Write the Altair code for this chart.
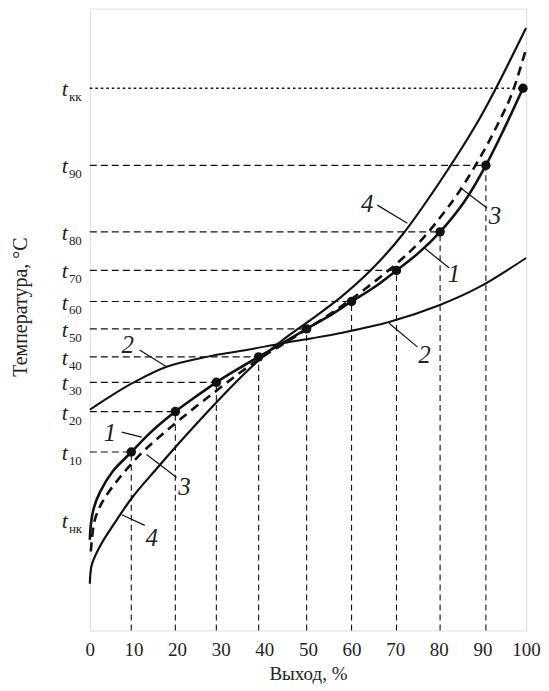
import altair as alt
import pandas as pd

FONT = "'Liberation Serif', 'Times New Roman', 'DejaVu Serif', serif"
INK = "#111111"

# ---- curve 1: solid line through the measured points ----
c1_x = [0, 0.23, 0.92, 2.29, 5.26, 9.54, 13.7, 19.6, 24.5, 29.0, 33.6, 38.7, 43.9,
        49.7, 54.9, 60.0, 65.2, 70.3, 75.5, 80.3, 85.8, 90.8, 95.0, 99.3]
c1_t = [14.6, 17.0, 19.7, 22.2, 25.6, 28.7, 31.7, 35.2, 37.7, 39.9, 41.9, 44.0, 46.1,
        48.5, 50.6, 52.9, 55.2, 57.9, 60.8, 64.1, 68.9, 74.8, 80.7, 87.2]

# ---- curve 2: flat S-curve ----
c2_x = [0, 4.58, 9.84, 17.6, 26.8, 35.9, 44.2, 51.0, 57.2, 68.6, 80.1, 89.2, 100]
c2_t = [35.5, 37.6, 39.8, 42.4, 44.0, 45.1, 46.2, 47.0, 47.8, 49.6, 52.3, 55.2, 59.9]

# ---- curve 3: dashed ----
c3_x = [0.23, 0.46, 1.14, 2.97, 6.86, 11.4, 16.7, 22.9, 29.1, 34.3, 39.6, 44.2, 50.3,
        60.0, 70.0, 75.5, 80.3, 84.7, 89.9, 93.8, 96.8, 100]
c3_t = [12.7, 14.6, 17.8, 20.8, 24.6, 28.2, 31.6, 35.2, 38.6, 41.4, 44.0, 46.0, 48.7,
        53.3, 58.8, 62.4, 66.4, 70.6, 76.6, 81.8, 86.4, 93.5]

# ---- curve 4: steep S-curve ----
c4_x = [0, 0.46, 2.29, 6.18, 9.84, 15.3, 19.9, 25.2, 30.4, 35.9, 41.2, 44.2, 50.3,
        57.2, 64.5, 71.6, 80.1, 88.6, 93.1, 100]
c4_t = [7.5, 10.6, 13.5, 17.8, 21.5, 26.0, 29.7, 33.8, 37.7, 41.6, 45.0, 46.7, 49.8,
        53.4, 58.0, 63.6, 72.0, 81.4, 87.2, 96.9]

# ---- measured points on curve 1 ----
pt_x = [9.5, 19.6, 29.0, 38.7, 49.7, 60.0, 70.3, 80.3, 90.8, 99.3]
pt_t = [28.7, 35.2, 39.9, 44.0, 48.5, 52.9, 57.9, 64.1, 74.8, 87.2]
pt_dash = ["dash", "dash", "dash", "dash", "dash", "dash", "dash", "dash", "dash", "dot"]

# ---- y tick labels (t with subscript) ----
lab_sub = ["кк", "90", "80", "70", "60", "50", "40", "30", "20", "10", "нк"]
lab_t = [87.2, 74.8, 64.1, 57.9, 52.9, 48.5, 44.0, 39.9, 35.2, 28.7, 17.7]

# ---- curve numbers and leader lines ----
num_text = ["1", "3", "4", "2", "4", "1", "3", "2"]
num_x = [4.6, 21.7, 14.2, 8.7, 63.6, 83.5, 92.9, 76.7]
num_t = [31.8, 23.1, 14.9, 45.9, 68.5, 57.3, 66.6, 44.3]
lead_x = [7.3, 13.0, 7.3, 11.4, 65.9, 76.7, 85.1, 68.6]
lead_t = [31.9, 28.3, 18.6, 45.1, 68.4, 61.5, 71.1, 49.4]
lead_x2 = [11.9, 19.9, 12.6, 17.6, 72.8, 82.4, 91.1, 75.1]
lead_t2 = [31.1, 24.6, 16.9, 42.4, 65.5, 58.3, 67.9, 45.6]

x_ticks = [0, 10, 20, 30, 40, 50, 60, 70, 80, 90, 100]

xs = alt.Scale(domain=[0, 100], nice=False, zero=False)
ys = alt.Scale(domain=[0, 100], nice=False, zero=False)
xax = alt.Axis(title="Выход, %", values=x_ticks, grid=False, ticks=False, tickSize=0,
               domain=False, labelFlush=False, labelOverlap=False,
               labelFont=FONT, labelFontSize=19, labelColor="#222", labelPadding=10,
               titleFont=FONT, titleFontSize=19, titleFontWeight="normal",
               titleColor="#222", titlePadding=5)

X = lambda f="x": alt.X(f"{f}:Q", scale=xs, axis=xax)
Y = lambda f="t": alt.Y(f"{f}:Q", scale=ys, axis=None)

def curve_df(xv, tv):
    return pd.DataFrame({"x": xv, "t": tv, "o": list(range(len(xv)))})

pts = pd.DataFrame({"x": pt_x, "t": pt_t, "d": pt_dash})

hguide_dash = alt.Chart(pts[pts.d == "dash"]).mark_rule(
    color=INK, strokeWidth=1.2, strokeDash=[7, 4]
).encode(x=alt.X("zero:Q", scale=xs, axis=xax), x2="x:Q", y=Y()).transform_calculate(zero="0")

hguide_dot = alt.Chart(pts[pts.d == "dot"]).mark_rule(
    color=INK, strokeWidth=1.4, strokeDash=[2.5, 3]
).encode(x=alt.X("zero:Q", scale=xs, axis=xax), x2="x:Q", y=Y()).transform_calculate(zero="0")

vguide = alt.Chart(pts[pts.d == "dash"]).mark_rule(
    color=INK, strokeWidth=1.1, strokeDash=[6, 4]
).encode(x=X(), y=alt.Y("zero:Q", scale=ys, axis=None), y2="t:Q").transform_calculate(zero="0")

def line(xv, tv, width, dash=None):
    kw = dict(color=INK, strokeWidth=width, interpolate="catmull-rom")
    if dash:
        kw["strokeDash"] = dash
    return alt.Chart(curve_df(xv, tv)).mark_line(**kw).encode(
        x=X(), y=Y(), order="o:Q")

l1 = line(c1_x, c1_t, 2.6)
l2 = line(c2_x, c2_t, 2.0)
l3 = line(c3_x, c3_t, 2.6, [9, 6])
l4 = line(c4_x, c4_t, 2.2)

dots = alt.Chart(pts).mark_circle(color=INK, opacity=1, size=90).encode(x=X(), y=Y())

leaders = alt.Chart(pd.DataFrame({"x": lead_x, "t": lead_t, "x2": lead_x2, "t2": lead_t2})
                    ).mark_rule(color=INK, strokeWidth=1.2).encode(
    x=X(), y=Y(), x2="x2:Q", y2="t2:Q")

numbers = alt.Chart(pd.DataFrame({"x": num_x, "t": num_t, "s": num_text})).mark_text(
    font=FONT, fontSize=25, fontStyle="italic", color="#222", align="center",
    baseline="middle").encode(x=X(), y=Y(), text="s:N")

labs = pd.DataFrame({"t": lab_t, "s": lab_sub})
tlab = alt.Chart(labs).mark_text(
    font=FONT, fontSize=22, fontStyle="italic", color="#222", align="center",
    baseline="alphabetic", dy=8).encode(x=alt.value(-25), y=Y(), text=alt.value("t"))
slab = alt.Chart(labs).mark_text(
    font=FONT, fontSize=13, color="#222", align="left",
    baseline="alphabetic", dy=13).encode(x=alt.value(-21), y=Y(), text="s:N")

ytitle = alt.Chart(pd.DataFrame({"s": ["Температура, °C"]})).mark_text(
    font=FONT, fontSize=20, color="#222", angle=270, align="center",
    baseline="middle").encode(x=alt.value(-69), y=alt.value(299), text="s:N")

chart = alt.layer(
    hguide_dash, hguide_dot, vguide, l2, l4, l3, l1, dots, leaders, numbers,
    tlab, slab, ytitle
).properties(
    width=437, height=623,
    autosize=alt.AutoSizeParams(type="none"),
    padding={"left": 82, "top": 0, "right": 15, "bottom": 56},
).configure_view(stroke="#222", strokeWidth=1.6).configure(background="white")

chart.save("out.html", embed_options={"renderer": "svg", "actions": False})
